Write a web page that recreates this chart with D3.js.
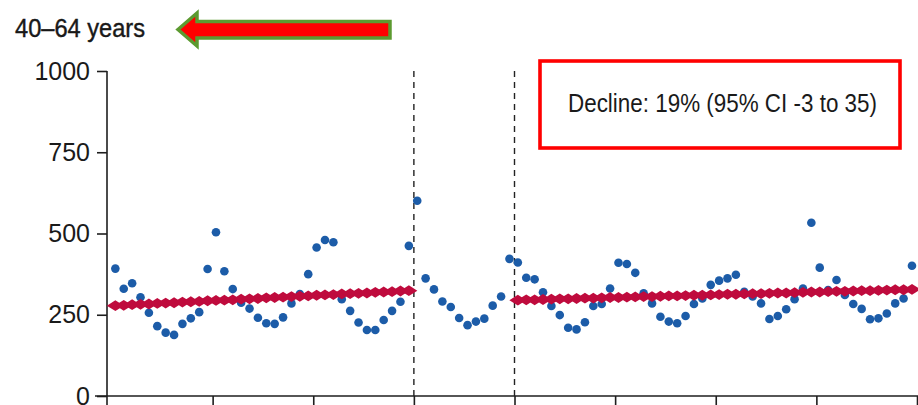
<!DOCTYPE html>
<html>
<head>
<meta charset="utf-8">
<script src="https://cdn.jsdelivr.net/npm/d3@7"></script>
<style>
  html, body { margin: 0; padding: 0; background: #fff; }
  svg { display: block; }
  text { font-family: "Liberation Sans", Arial, sans-serif; fill: #1a1a1a; }
</style>
</head>
<body>
<svg id="chart" width="918" height="405"></svg>
<script>
// Monthly rate per 100 000, 8 years (96 months)
const observedPre = [392,330,347,304,256,215,195,188,222,239,258,391,
                     504,384,329,287,269,241,224,222,242,285,314,375,
                     457,480,473,298,262,226,203,203,234,262,290,462];
const observedGap = [601,362,328,291,274,240,218,229,238,278,306,422];
const observedPost = [411,364,359,319,277,249,210,205,227,277,283,331,
                      410,406,379,316,285,244,229,224,246,283,300,342,
                      355,362,373,321,306,285,237,246,267,298,331,533,
                      395,326,357,311,283,268,236,239,254,285,300,401];
// Fitted trend (model) for the pre and post periods
const trendPre = [278,279,281,282,283,285,286,287,289,290,291,293,
                  294,295,296,298,299,300,302,303,304,306,307,308,
                  310,311,312,314,315,316,317,319,320,321,323,324];
const trendPost = [295,296,296,297,298,299,299,300,301,301,302,303,
                   303,304,305,306,306,307,308,308,309,310,310,311,
                   312,313,313,314,315,315,316,317,317,318,319,320,
                   320,321,322,322,323,324,324,325,326,327,327,328];
const yTicks = [0, 250, 500, 750, 1000];
const xTicks = [12, 24, 36, 48, 60, 72, 84, 96];
const breaks = [36, 48];
const titleText = "40–64 years";
const noteText = "Decline: 19% (95% CI -3 to 35)";

const svg = d3.select("#chart");
const x = d3.scaleLinear().domain([0, 96]).range([112, 917]);
const y = d3.scaleLinear().domain([0, 1000]).range([396, 71]);
const off = 0.4; // within-month position of each point

const observed = observedPre.concat(observedGap, observedPost)
  .map((v, i) => ({ m: i + off, v }));
const trend = trendPre.map((v, i) => ({ m: i + off, v }))
  .concat(trendPost.map((v, i) => ({ m: 48 + i + off, v })));

// Axes
const axisColor = "#1e1e1e";
const yAxis = svg.append("g").attr("transform", "translate(107,0)")
  .call(d3.axisLeft(y).tickValues(yTicks).tickFormat(d3.format("d"))
    .tickSize(10).tickPadding(7));
yAxis.select(".domain").remove();
yAxis.selectAll(".tick line").attr("stroke", axisColor).attr("stroke-width", 1.6);
yAxis.selectAll(".tick text").style("font-size", "25px").attr("fill", "#2a2a2a");

const xAxis = svg.append("g").attr("transform", "translate(0,396)")
  .call(d3.axisBottom(x).tickValues(xTicks).tickSize(10).tickFormat(""));
xAxis.select(".domain").remove();
xAxis.selectAll(".tick line").attr("stroke", axisColor).attr("stroke-width", 1.6);

svg.append("line").attr("x1", 107).attr("x2", 107).attr("y1", y(1000)).attr("y2", 405)
  .attr("stroke", axisColor).attr("stroke-width", 1.6);
svg.append("line").attr("x1", 95).attr("x2", 918).attr("y1", y(0)).attr("y2", y(0))
  .attr("stroke", axisColor).attr("stroke-width", 1.6);

// Period boundaries
svg.selectAll("line.brk").data(breaks).join("line").attr("class", "brk")
  .attr("x1", d => x(d)).attr("x2", d => x(d))
  .attr("y1", y(1000)).attr("y2", y(0))
  .attr("stroke", "#222").attr("stroke-width", 1.4)
  .attr("stroke-dasharray", "6,5");

// Observed monthly rates
svg.append("g").selectAll("circle").data(observed).join("circle")
  .attr("cx", d => x(d.m)).attr("cy", d => y(d.v)).attr("r", 4.3)
  .attr("fill", "#1c5ca8");

// Trend markers (diamonds)
const dw = 8.5, dh = 5.4;
svg.append("g").selectAll("path").data(trend).join("path")
  .attr("transform", d => `translate(${x(d.m)},${y(d.v)})`)
  .attr("d", `M${-dw},0L0,${-dh}L${dw},0L0,${dh}Z`)
  .attr("fill", "#bf0b3d");

// Title and arrow
svg.append("text").attr("x", 15).attr("y", 37)
  .attr("textLength", 130).attr("lengthAdjust", "spacingAndGlyphs")
  .style("font-size", "25px").attr("fill", "#111")
  .attr("stroke", "#111").attr("stroke-width", 0.4)
  .text(titleText);

svg.append("path")
  .attr("d", "M178,29.5L197,13L197,21.5L390,21.5L390,38L197,38L197,46Z")
  .attr("fill", "#ff0000").attr("stroke", "#5c9a30").attr("stroke-width", 3.5)
  .attr("stroke-linejoin", "miter");

// Annotation box
svg.append("rect").attr("x", 540).attr("y", 61).attr("width", 360).attr("height", 87)
  .attr("fill", "none").attr("stroke", "#ff0000").attr("stroke-width", 3.6);
svg.append("text").attr("x", 568).attr("y", 111.5)
  .attr("textLength", 309).attr("lengthAdjust", "spacingAndGlyphs")
  .style("font-size", "25px").text(noteText);
</script>
</body>
</html>
